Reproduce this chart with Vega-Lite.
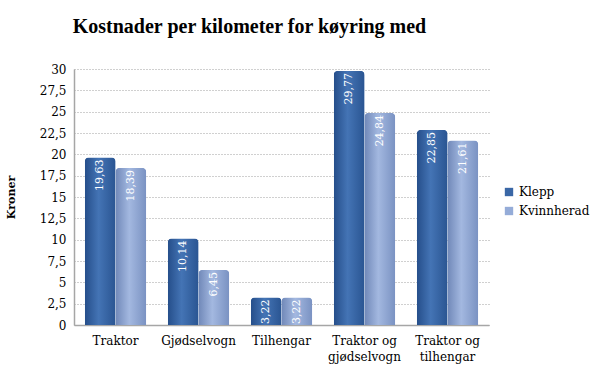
{
  "$schema": "https://vega.github.io/schema/vega-lite/v6.json",
  "width": 415,
  "height": 256,
  "padding": {"left": 5, "top": 17, "right": 5, "bottom": 5},
  "background": "white",
  "config": {
    "locale": {"number": {"decimal": ",", "thousands": " ", "grouping": [3], "currency": ["", " kr"]}},
    "font": "DejaVu Serif",
    "view": {"stroke": null}
  },
  "title": {
    "text": "Kostnader per kilometer for køyring med",
    "font": "Liberation Serif",
    "fontSize": 20,
    "fontWeight": "bold",
    "color": "#000000",
    "anchor": "middle",
    "dx": -32,
    "offset": 26
  },
  "data": {
    "values": [
      {"kategori": "Traktor", "sted": "Klepp", "kroner": 19.63},
      {"kategori": "Traktor", "sted": "Kvinnherad", "kroner": 18.39},
      {"kategori": "Gjødselvogn", "sted": "Klepp", "kroner": 10.14},
      {"kategori": "Gjødselvogn", "sted": "Kvinnherad", "kroner": 6.45},
      {"kategori": "Tilhengar", "sted": "Klepp", "kroner": 3.22},
      {"kategori": "Tilhengar", "sted": "Kvinnherad", "kroner": 3.22},
      {"kategori": "Traktor og gjødselvogn", "sted": "Klepp", "kroner": 29.77},
      {"kategori": "Traktor og gjødselvogn", "sted": "Kvinnherad", "kroner": 24.84},
      {"kategori": "Traktor og tilhengar", "sted": "Klepp", "kroner": 22.85},
      {"kategori": "Traktor og tilhengar", "sted": "Kvinnherad", "kroner": 21.61}
    ]
  },
  "encoding": {
    "x": {
      "field": "kategori",
      "type": "nominal",
      "sort": null,
      "title": null,
      "scale": {"paddingInner": 0.26, "paddingOuter": 0.13},
      "axis": {
        "labelAngle": 0,
        "labelFont": "DejaVu Serif",
        "labelFontSize": 12,
        "labelColor": "#000000",
        "labelPadding": 10,
        "labelLineHeight": 16,
        "labelExpr": "datum.value == 'Traktor og gjødselvogn' ? ['Traktor og', 'gjødselvogn'] : datum.value == 'Traktor og tilhengar' ? ['Traktor og', 'tilhengar'] : datum.value",
        "ticks": false,
        "domainColor": "#a6a6a6",
        "domainWidth": 1.5
      }
    },
    "xOffset": {"field": "sted", "type": "nominal"},
    "y": {
      "field": "kroner",
      "type": "quantitative",
      "title": "Kroner",
      "scale": {"domain": [0, 30], "nice": false},
      "axis": {
        "values": [0, 2.5, 5, 7.5, 10, 12.5, 15, 17.5, 20, 22.5, 25, 27.5, 30],
        "format": ".1~f",
        "labelFont": "DejaVu Serif",
        "labelFontSize": 12,
        "labelColor": "#000000",
        "labelPadding": 8,
        "ticks": false,
        "titleFont": "DejaVu Serif",
        "titleFontSize": 11,
        "titleFontWeight": "bold",
        "titleColor": "#000000",
        "titlePadding": 23,
        "domainColor": "#a6a6a6",
        "domainWidth": 1.5,
        "gridColor": "#a0a0a0",
        "gridDash": [1, 2],
        "gridWidth": 1
      }
    }
  },
  "layer": [
    {
      "mark": {"type": "bar", "cornerRadiusTopLeft": 4, "cornerRadiusTopRight": 4},
      "encoding": {
        "color": {
          "field": "sted",
          "type": "nominal",
          "title": null,
          "scale": {"domain": ["Klepp", "Kvinnherad"], "range": ["#3A67A6", "#95ACD8"]},
          "legend": {
            "orient": "none",
            "legendX": 429,
            "legendY": 117,
            "labelFont": "DejaVu Serif",
            "labelFontSize": 12,
            "labelColor": "#000000",
            "symbolType": "square",
            "symbolSize": 70,
            "rowPadding": 7,
            "symbolStrokeWidth": 0
          }
        }
      }
    },
    {
      "transform": [{"filter": "datum.sted == 'Klepp'"}],
      "mark": {
        "type": "bar",
        "cornerRadiusTopLeft": 4,
        "cornerRadiusTopRight": 4,
        "color": {
          "x1": 0, "y1": 0, "x2": 1, "y2": 0,
          "gradient": "linear",
          "stops": [
            {"offset": 0, "color": "#254E8A"},
            {"offset": 0.45, "color": "#4474B5"},
            {"offset": 1, "color": "#2A5592"}
          ]
        }
      }
    },
    {
      "transform": [{"filter": "datum.sted == 'Kvinnherad'"}],
      "mark": {
        "type": "bar",
        "cornerRadiusTopLeft": 4,
        "cornerRadiusTopRight": 4,
        "color": {
          "x1": 0, "y1": 0, "x2": 1, "y2": 0,
          "gradient": "linear",
          "stops": [
            {"offset": 0, "color": "#7088B8"},
            {"offset": 0.45, "color": "#A3B8E0"},
            {"offset": 1, "color": "#7A92C2"}
          ]
        }
      }
    },
    {
      "mark": {
        "type": "text",
        "angle": -90,
        "align": "right",
        "baseline": "middle",
        "dx": -2,
        "color": "white",
        "font": "DejaVu Serif",
        "fontSize": 11
      },
      "encoding": {
        "text": {"field": "kroner", "type": "quantitative", "format": ".2f"}
      }
    }
  ]
}
